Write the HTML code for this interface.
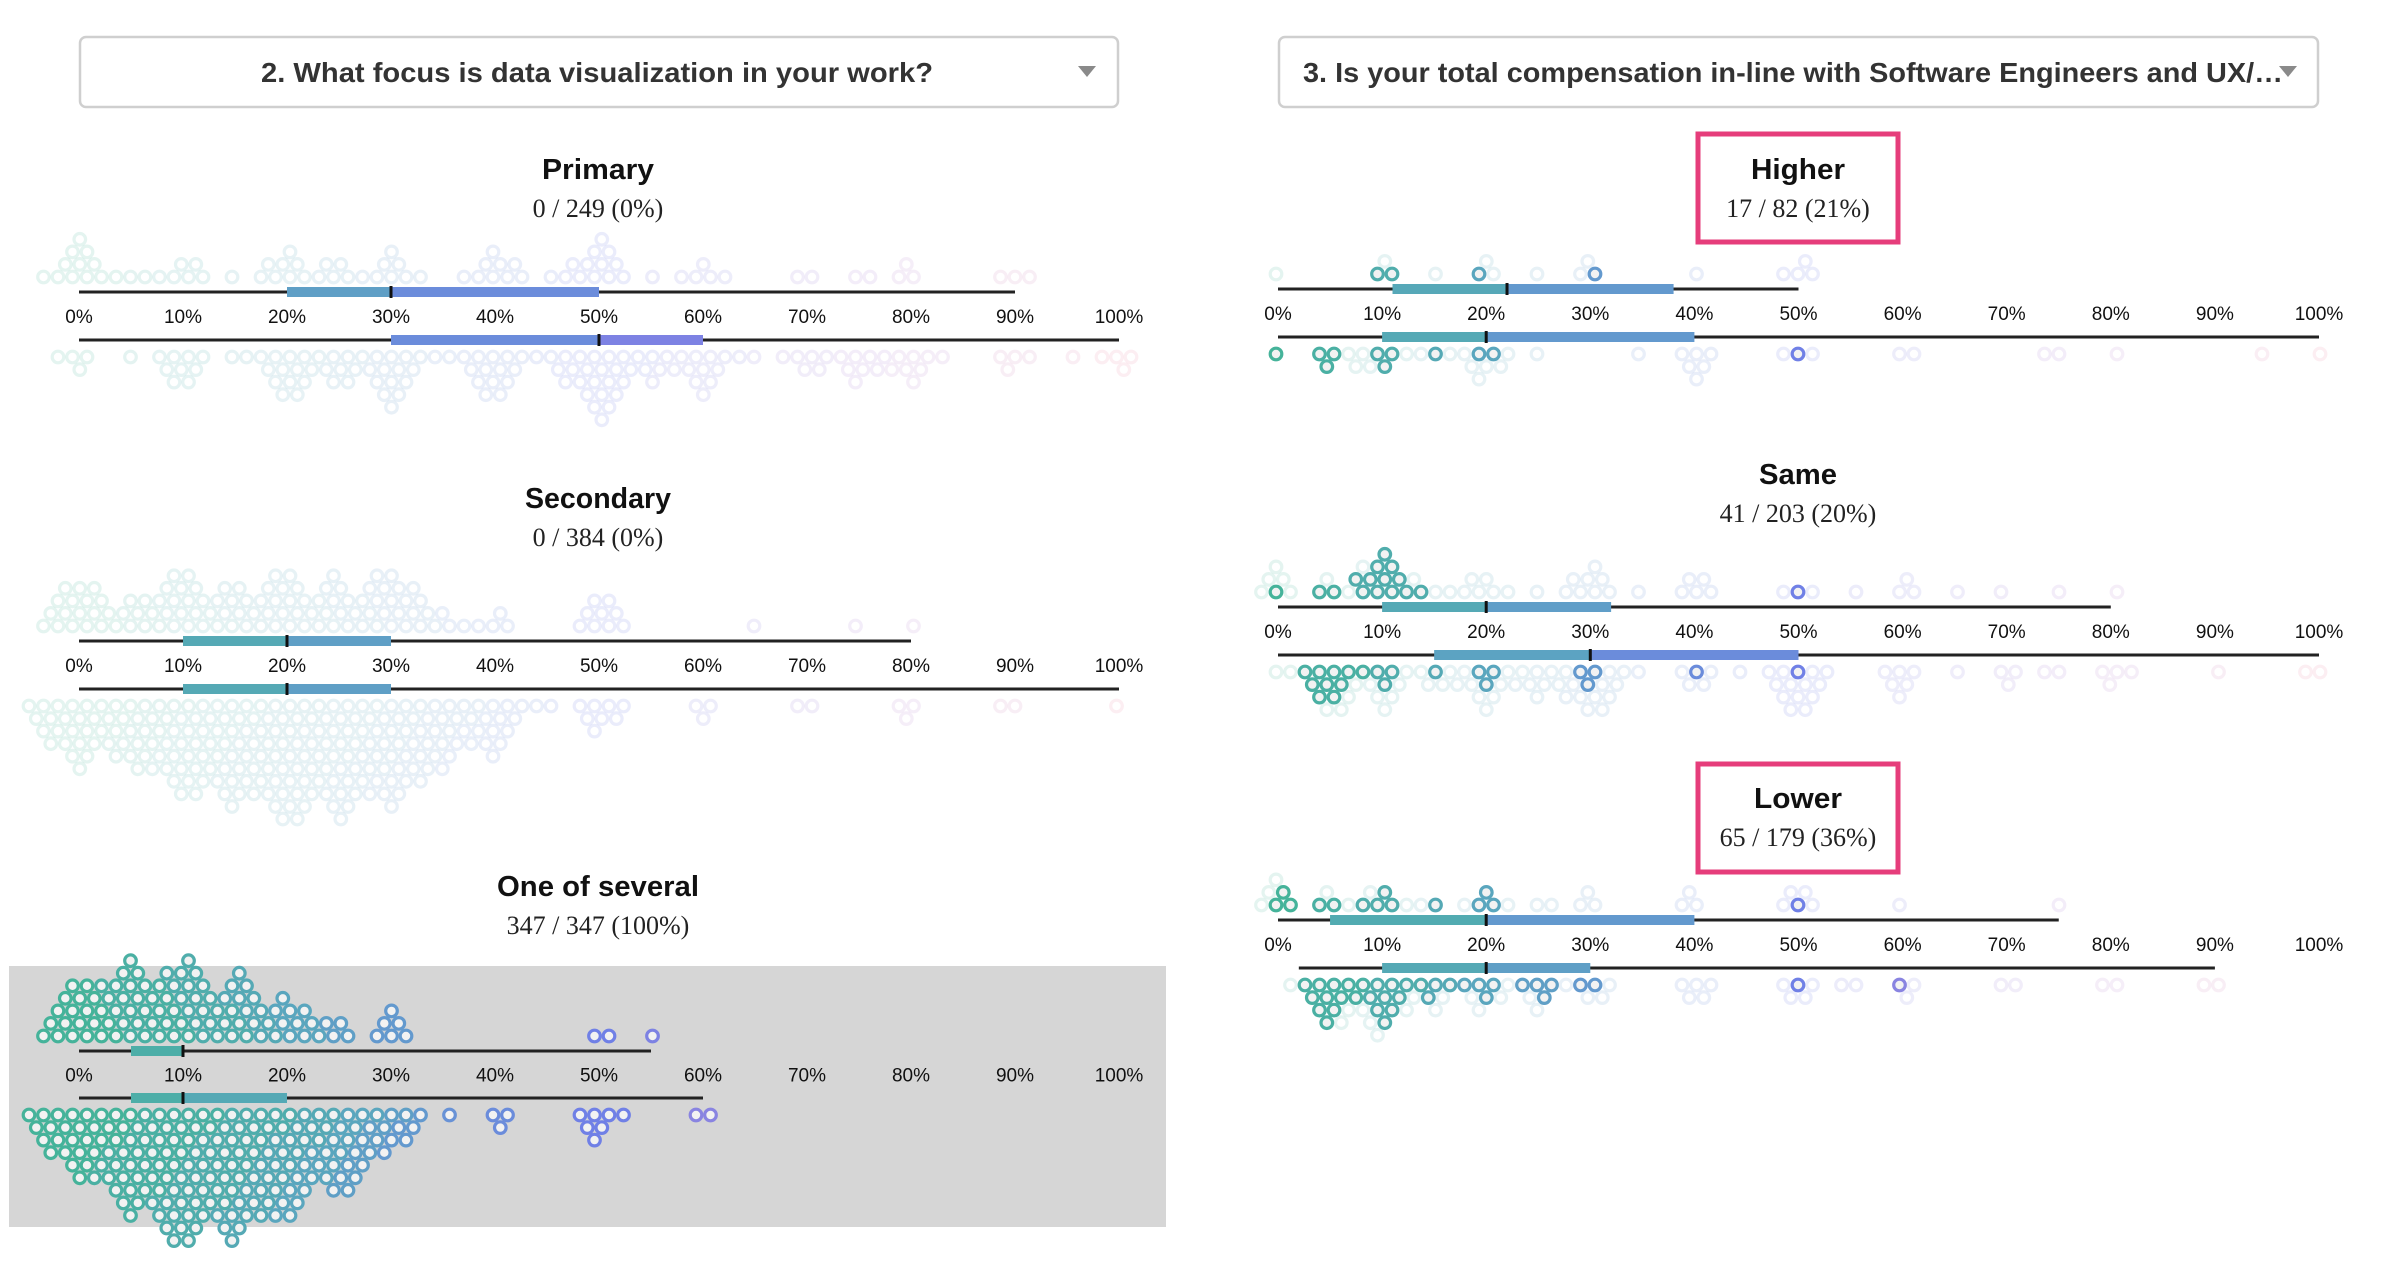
<!DOCTYPE html>
<html><head><meta charset="utf-8"><style>
html,body{margin:0;padding:0;background:#fff;width:2400px;height:1274px;overflow:hidden}
svg{display:block}
</style></head><body>
<svg id="root" width="2400" height="1274" viewBox="0 0 2400 1274" xmlns="http://www.w3.org/2000/svg">
  <rect x="9" y="966" width="1157" height="261" fill="#d6d6d6"/>
  <g>
    <rect x="80" y="37" width="1038" height="70" rx="6" fill="#fff" stroke="#cfcfcf" stroke-width="2.5"/>
    <text x="597" y="82" text-anchor="middle" font-family="Liberation Sans, sans-serif" font-weight="bold" font-size="28" fill="#333" textLength="672" lengthAdjust="spacingAndGlyphs">2. What focus is data visualization in your work?</text>
    <path d="M1078 66 L1096 66 L1087 77 Z" fill="#8a8a8a"/>
  </g>
  <g>
    <rect x="1279" y="37" width="1039" height="70" rx="6" fill="#fff" stroke="#cfcfcf" stroke-width="2.5"/>
    <text x="1303" y="82" font-family="Liberation Sans, sans-serif" font-weight="bold" font-size="28" fill="#333" textLength="980" lengthAdjust="spacingAndGlyphs">3. Is your total compensation in-line with Software Engineers and UX/…</text>
    <path d="M2279 66 L2297 66 L2288 77 Z" fill="#8a8a8a"/>
  </g>
  <rect x="1698" y="134" width="200" height="108" fill="none" stroke="#e63d7b" stroke-width="5"/>
  <rect x="1698" y="764" width="200" height="108" fill="none" stroke="#e63d7b" stroke-width="5"/>
  <g id="charts"></g>
</svg>
<script>
// ---- Chart data (percent values, dot counts, highlighted counts) ----
// Primary
const primTopVals=[0,5,10,15,20,25,30,40,45,50,55,60,70,75,80,90];
const primTopCnt=[12,2,6,1,8,5,8,9,1,12,1,5,2,2,3,3];
const primTopHl=[0,0,0,0,0,0,0,0,0,0,0,0,0,0,0,0];
const primBotVals=[0,5,10,15,20,25,30,35,40,45,50,55,60,65,70,75,80,90,95,100];
const primBotCnt=[4,1,9,2,14,8,14,2,14,2,25,3,12,1,6,8,8,4,1,4];
const primBotHl=[0,0,0,0,0,0,0,0,0,0,0,0,0,0,0,0,0,0,0,0];
const primTopBox=[0,20,30,50,90];
const primBotBox=[0,30,50,60,100];
// Secondary
const secTopVals=[0,5,10,15,20,25,30,35,40,50,65,75,80];
const secTopCnt=[18,8,18,10,20,12,18,3,4,9,1,1,1];
const secTopHl=[0,0,0,0,0,0,0,0,0,0,0,0,0];
const secBotVals=[0,5,10,15,20,25,30,35,40,45,50,60,70,80,90,100];
const secBotCnt=[28,18,36,32,40,28,28,8,10,1,8,3,2,3,2,1];
const secBotHl=[0,0,0,0,0,0,0,0,0,0,0,0,0,0,0,0];
const secTopBox=[0,10,20,30,80];
const secBotBox=[0,10,20,30,100];
// One of several
const oneTopVals=[0,5,10,15,20,25,30,50,55];
const oneTopCnt=[20,28,22,12,10,4,6,2,1];
const oneTopHl=[20,28,22,12,10,4,6,2,1];
const oneBotVals=[0,5,10,15,20,25,30,35,40,50,60];
const oneBotCnt=[28,42,50,32,22,14,6,1,3,7,2];
const oneBotHl=[28,42,50,32,22,14,6,1,3,7,2];
const oneTopBox=[0,5,10,10,55];
const oneBotBox=[0,5,10,20,60];
// Higher
const hiTopVals=[0,10,15,20,25,30,40,50];
const hiTopCnt=[1,3,1,3,1,3,1,4];
const hiTopHl=[0,2,0,1,0,1,0,0];
const hiBotVals=[0,5,8,10,15,20,25,35,40,50,60,75,80,95,100];
const hiBotCnt=[1,4,2,5,3,8,1,1,6,3,2,2,1,1,1];
const hiBotHl=[1,3,0,3,1,2,0,0,0,1,0,0,0,0,0];
const hiTopBox=[0,11,22,38,50];
const hiBotBox=[0,10,20,40,100];
// Same
const saTopVals=[0,5,10,15,20,25,30,35,40,50,55,60,65,70,75,80];
const saTopCnt=[6,4,14,2,6,1,8,1,5,3,1,3,1,1,1,1];
const saTopHl=[1,2,12,0,0,0,0,0,0,1,0,0,0,0,0,0];
const saBotVals=[0,5,10,15,20,25,30,35,40,45,50,60,65,70,75,80,90,100];
const saBotCnt=[2,14,10,4,12,8,14,1,5,1,14,6,1,3,2,4,1,2];
const saBotHl=[0,10,3,1,3,0,3,0,1,0,1,0,0,0,0,0,0,0];
const saTopBox=[0,10,20,32,80];
const saBotBox=[0,15,30,50,100];
// Lower
const loTopVals=[0,5,10,15,20,25,30,40,50,60,75];
const loTopCnt=[6,4,6,2,5,2,3,3,5,1,1];
const loTopHl=[3,2,4,1,3,0,0,0,1,0,0];
const loBotVals=[5,10,15,20,25,30,40,50,55,60,70,80,90];
const loBotCnt=[15,15,5,8,6,6,5,5,2,3,2,2,2];
const loBotHl=[12,10,3,4,4,2,0,1,0,1,0,0,0];
const loTopBox=[0,5,20,40,75];
const loBotBox=[2,10,20,30,90];
const tickVals=[0,10,20,30,40,50,60,70,80,90,100];

const NS='http://www.w3.org/2000/svg';
const root=document.getElementById('charts');
function mk(tag,attrs,parent){const e=document.createElementNS(NS,tag);for(const k in attrs)e.setAttribute(k,attrs[k]);(parent||root).appendChild(e);return e;}
const stops=[[0,[69,179,154]],[20,[90,166,190]],[35,[104,146,214]],[50,[112,128,230]],[65,[150,134,222]],[80,[190,138,210]],[100,[236,138,168]]];
function color(v){for(let i=1;i<stops.length;i++){if(v<=stops[i][0]){const a=stops[i-1],b=stops[i];const t=(v-a[0])/(b[0]-a[0]);const c=a[1].map((x,j)=>Math.round(x+(b[1][j]-x)*t));return 'rgb('+c.join(',')+')';}}return 'rgb(236,138,168)';}
const D=14.5;
function swarm(g,xs,vals,cnts,hls,baseY,dir){
  const used={};
  const RH=D*0.866;
  vals.forEach((v,i)=>{
    const x=xs(v);
    for(let k=0;k<cnts[i];k++){
      let best=null,bc=1e9;
      for(let r=0;r<30;r++){
        if(r*RH*0.8>bc)break;
        const off=(r%2)*D/2;
        const c0=Math.round((x-off)/D);
        for(let c=c0-12;c<=c0+12;c++){
          const key=r+'_'+c;if(used[key])continue;
          const cxp=c*D+off;const cost=Math.abs(cxp-x)+r*RH*0.8;
          if(cost<bc){bc=cost;best={r:r,c:c,x:cxp};}
        }
      }
      used[best.r+'_'+best.c]=1;
      const hl=k<hls[i];
      const el=mk('circle',{cx:best.x.toFixed(1),cy:(baseY+dir*best.r*RH).toFixed(1),r:5.8,fill:hl?'#f2f2f2':'#fff',stroke:color(v),'stroke-width':3.2,opacity:hl?1:0.14},g);
      
      
    }
  });
}
function boxLine(g,xs,box,y){
  const l=mk('line',{x1:xs(box[0]),x2:xs(box[4]),y1:y,y2:y,stroke:'#222','stroke-width':3},g);
  
  
  const r1=mk('rect',{x:xs(box[1]),y:y-5,width:Math.max(0,xs(box[2])-xs(box[1])),height:10,fill:color((box[1]+box[2])/2)},g);
  
  
  const r2=mk('rect',{x:xs(box[2]),y:y-5,width:Math.max(0,xs(box[3])-xs(box[2])),height:10,fill:color((box[2]+box[3])/2)},g);
  
  
  const m=mk('rect',{x:xs(box[2])-1.5,y:y-6,width:3,height:12,fill:'#111'},g);
  
  
}
function chart(cfg){
  const g=mk('g',{});
  
  
  const xs=v=>cfg.x0+v*(cfg.x1-cfg.x0)/100;
  const cx=cfg.cx;
  const t=mk('text',{x:cx,y:cfg.ty,'text-anchor':'middle','font-family':'Liberation Sans, sans-serif','font-weight':'bold','font-size':29,fill:'#111',textLength:cfg.tl,lengthAdjust:'spacingAndGlyphs'},g);
  t.textContent=cfg.title;
  
  
  const s=mk('text',{x:cx,y:cfg.ty+38,'text-anchor':'middle','font-family':'Liberation Serif, serif','font-size':26,fill:'#222'},g);
  s.textContent=cfg.sub;
  
  
  swarm(g,xs,cfg.tv,cfg.tc,cfg.th,cfg.ly-15,-1);
  swarm(g,xs,cfg.bv,cfg.bc,cfg.bh,cfg.ly+cfg.gap+17,1);
  boxLine(g,xs,cfg.tb,cfg.ly);
  boxLine(g,xs,cfg.bb,cfg.ly+cfg.gap);
  tickVals.forEach(v=>{
    const tx=mk('text',{x:xs(v),y:cfg.ly+cfg.gap/2+7,'text-anchor':'middle','font-family':'Liberation Sans, sans-serif','font-size':19,fill:'#111'},g);
    tx.textContent=v+'%';
    
    
  });
}
const L={x0:79,x1:1119,cx:598};const R={x0:1278,x1:2319,cx:1798};
chart(Object.assign({},L,{name:'chart-primary',title:'Primary',sub:'0 / 249 (0%)',tl:112,ty:179,ly:292,gap:48,tv:primTopVals,tc:primTopCnt,th:primTopHl,bv:primBotVals,bc:primBotCnt,bh:primBotHl,tb:primTopBox,bb:primBotBox}));
chart(Object.assign({},L,{name:'chart-secondary',title:'Secondary',sub:'0 / 384 (0%)',tl:146,ty:508,ly:641,gap:48,tv:secTopVals,tc:secTopCnt,th:secTopHl,bv:secBotVals,bc:secBotCnt,bh:secBotHl,tb:secTopBox,bb:secBotBox}));
chart(Object.assign({},L,{name:'chart-one-of-several',title:'One of several',sub:'347 / 347 (100%)',tl:202,ty:896,ly:1051,gap:47,tv:oneTopVals,tc:oneTopCnt,th:oneTopHl,bv:oneBotVals,bc:oneBotCnt,bh:oneBotHl,tb:oneTopBox,bb:oneBotBox}));
chart(Object.assign({},R,{name:'chart-higher',title:'Higher',sub:'17 / 82 (21%)',tl:94,ty:179,ly:289,gap:48,tv:hiTopVals,tc:hiTopCnt,th:hiTopHl,bv:hiBotVals,bc:hiBotCnt,bh:hiBotHl,tb:hiTopBox,bb:hiBotBox}));
chart(Object.assign({},R,{name:'chart-same',title:'Same',sub:'41 / 203 (20%)',tl:78,ty:484,ly:607,gap:48,tv:saTopVals,tc:saTopCnt,th:saTopHl,bv:saBotVals,bc:saBotCnt,bh:saBotHl,tb:saTopBox,bb:saBotBox}));
chart(Object.assign({},R,{name:'chart-lower',title:'Lower',sub:'65 / 179 (36%)',tl:88,ty:808,ly:920,gap:48,tv:loTopVals,tc:loTopCnt,th:loTopHl,bv:loBotVals,bc:loBotCnt,bh:loBotHl,tb:loTopBox,bb:loBotBox}));
</script>
</body></html>
